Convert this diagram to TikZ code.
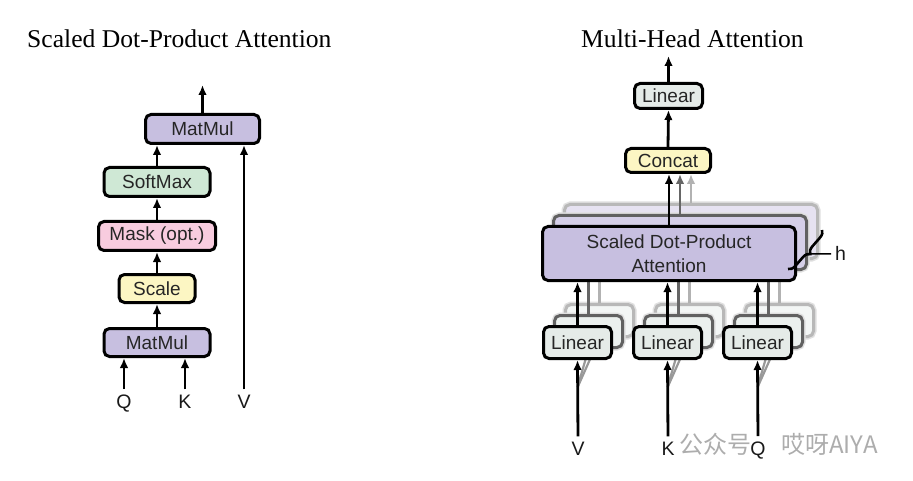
\documentclass[tikz,border=0pt]{standalone}
\usepackage{fontspec}
\setmainfont{Liberation Serif}
\setsansfont{Liberation Sans}
\newfontfamily\cjk{Noto Sans CJK SC}
\usetikzlibrary{arrows.meta,decorations.pathreplacing,calc}
\definecolor{mmpurple}{HTML}{C7BFE0}
\definecolor{smgreen}{HTML}{CFE8D5}
\definecolor{mkpink}{HTML}{F8CCDF}
\definecolor{scyellow}{HTML}{FCF6C3}
\definecolor{lingray}{HTML}{E5EBE8}
\begin{document}
\begin{tikzpicture}[x=1pt,y=-1pt,
  box/.style={draw=black, line width=3pt, rounded corners=5.5pt, inner sep=0pt,
    font=\sffamily\fontsize{19}{24}\selectfont, text=black!85, align=center},
  arr/.style={line width=2.8pt, -{Latex[length=10pt,width=8.5pt]}},
  lab/.style={font=\sffamily\fontsize{19.5}{22}\selectfont, inner sep=2pt, anchor=base, text=black!90},
  ttl/.style={font=\fontsize{25.6}{30}\selectfont, anchor=base west, inner sep=0pt},
  halo/.style={preaction={draw=black!12, line width=6pt}}
]
\fill[white] (0,0) rectangle (913,481);
\useasboundingbox (0,0) rectangle (913,481);

% ---------- titles ----------
\node[ttl] (t1) at (27,48) {Scaled Dot-Product Attention};
\node[ttl] (t2) at (581,48) {Multi-Head Attention};

% ---------- left diagram ----------
\node[box, fill=mmpurple, minimum width=114pt, minimum height=29pt] (mm2) at (202.5,129) {MatMul};
\node[box, fill=smgreen, minimum width=106pt, minimum height=29pt] (sm) at (157,182) {SoftMax};
\node[box, fill=mkpink, minimum width=117pt, minimum height=29pt] (mask) at (157,236) {Mask (opt.)};
\node[box, fill=scyellow, minimum width=76pt, minimum height=28pt] (scale) at (157,288.5) {Scale};
\node[box, fill=mmpurple, minimum width=106pt, minimum height=28pt] (mm1) at (157,342.5) {MatMul};
\node[lab] (q) at (124,408) {Q};
\node[lab] (k) at (185,408) {K};
\node[lab] (v) at (244,408) {V};
\coordinate (outL) at (202.5,85);

\draw[arr] (mm1.north) -- (scale.south);
\draw[arr] (scale.north) -- (mask.south);
\draw[arr] (mask.north) -- (sm.south);
\draw[arr] (sm.north) -- (sm.north |- mm2.south);
\draw[arr] (mm2.north) -- (outL);
\draw[arr, shorten <=3pt] (q.north) -- (q.north |- mm1.south);
\draw[arr, shorten <=3pt] (k.north) -- (k.north |- mm1.south);
\draw[arr, shorten <=3pt] (v.north) -- (v.north |- mm2.south);

% ---------- right diagram ----------
\node[box, fill=lingray, minimum width=68pt, minimum height=25pt] (lintop) at (668.5,96) {Linear};
\node[box, fill=scyellow, minimum width=85pt, minimum height=24pt] (concat) at (668,160.5) {Concat};
\coordinate (outR) at (668.5,56);
\draw[arr] (concat.north) -- (lintop.south);
\draw[arr] (lintop.north) -- (outR);

\node[lab] (labV) at (578,455) {V};
\node[lab] (labK) at (668,455) {K};
\node[lab] (labQ) at (758,455) {Q};
\foreach \n/\x in {V/577.5,K/667.5,Q/757.5} {
  \coordinate (fork\n) at ($(lab\n.north)!0.66!(\x,360)$);
}

% back layers
\foreach \k/\bc/\fc/\lc/\ac in {2/black!28/mmpurple!45!white/lingray!45!white/black!30,
                                 1/black!62/mmpurple!75!white/lingray!75!white/black!60} {
  \pgfmathsetmacro\dd{11*\k}
  \foreach \n/\x in {V/577.5,K/667.5,Q/757.5} {
    \node[box, halo, draw=\bc, fill=\lc, minimum width=68pt, minimum height=32pt] (lin\n\k) at (\x+\dd, 342.5-\dd) {};
    \draw[line width=2.2pt, draw=black!40] (fork\n) -- (lin\n\k.south);
  }
  \node[box, halo, draw=\bc, fill=\fc, minimum width=253pt, minimum height=54pt] (sd\k) at (669+\dd, 253.5-\dd) {};
  \foreach \n in {V,K,Q} {
    \draw[arr, draw=\ac] (lin\n\k.north) -- (lin\n\k.north |- sd\k.south);
  }
  \draw[arr, draw=\ac] (sd\k.north) -- (sd\k.north |- concat.south);
}

% front layer
\node[box, fill=lingray, minimum width=68pt, minimum height=32pt] (linV) at (577.5,342.5) {Linear};
\node[box, fill=lingray, minimum width=68pt, minimum height=32pt] (linK) at (667.5,342.5) {Linear};
\node[box, fill=lingray, minimum width=68pt, minimum height=32pt] (linQ) at (757.5,342.5) {Linear};
\node[box, fill=mmpurple, minimum width=253pt, minimum height=54pt] (sd) at (669,253.5) {Scaled Dot-Product\\Attention};
\foreach \n in {V,K,Q} {
  \draw[arr, shorten <=3pt] (lab\n.north) -- (lin\n.south);
  \draw[arr] (lin\n.north) -- (lin\n.north |- sd.south);
}
\draw[arr] (sd.north) -- (sd.north |- concat.south);

% brace and h
\draw[line width=2.6pt, decorate, decoration={brace, amplitude=7pt}] (822,230) -- (788,269);
\coordinate (bt) at (810,254);
\node[lab, anchor=base west, inner sep=0pt] (h) at (835,261) {h};
\draw[line width=1.5pt, shorten >=4pt] (bt) -- (h.west);

% watermark
\node[anchor=base west, inner sep=0pt, text=black!32, font=\cjk\fontsize{24}{26}\selectfont] (wm) at (679,453) {公众号\hspace{30pt}哎呀AIYA};
\end{tikzpicture}
\end{document}
